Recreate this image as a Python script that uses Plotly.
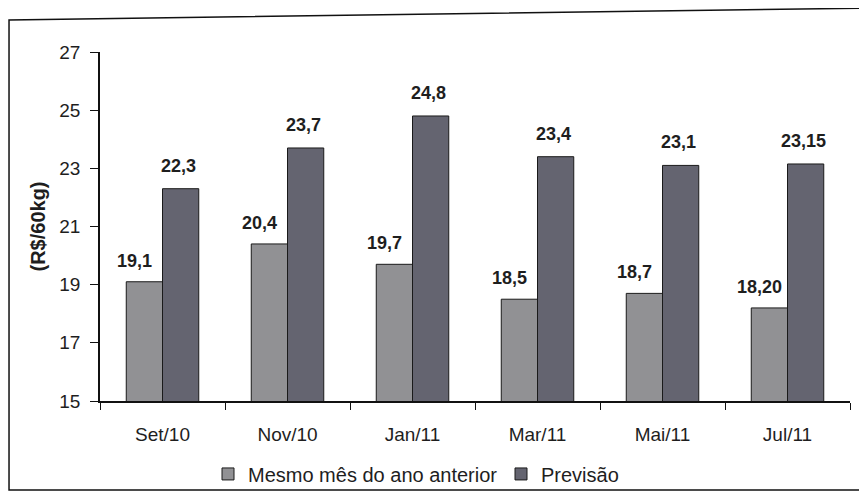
import plotly.graph_objects as go

categories = ["Set/10", "Nov/10", "Jan/11", "Mar/11", "Mai/11", "Jul/11"]
mesmo_mes = [19.1, 20.4, 19.7, 18.5, 18.7, 18.2]
mesmo_mes_labels = ["19,1", "20,4", "19,7", "18,5", "18,7", "18,20"]
previsao = [22.3, 23.7, 24.8, 23.4, 23.1, 23.15]
previsao_labels = ["22,3", "23,7", "24,8", "23,4", "23,1", "23,15"]
y_ticks = [15, 17, 19, 21, 23, 25, 27]

font_family = "Liberation Sans, Arial, sans-serif"
text_color = "#1e1e1e"

fig = go.Figure()
fig.add_trace(go.Bar(
    x=categories, y=mesmo_mes, name="Mesmo mês do ano anterior",
    marker=dict(color="#919194", line=dict(color="#1a1a1a", width=1)),
))
fig.add_trace(go.Bar(
    x=categories, y=previsao, name="Previsão",
    marker=dict(color="#646470", line=dict(color="#1a1a1a", width=1)),
))

annotations = []
for cat, v, lab in zip(categories, mesmo_mes, mesmo_mes_labels):
    annotations.append(dict(x=cat, y=v, text=lab, showarrow=False, xref="x", yref="y",
                            xanchor="center", yanchor="bottom", xshift=-28, yshift=9,
                            font=dict(size=18, color=text_color, weight="bold")))
for cat, v, lab in zip(categories, previsao, previsao_labels):
    annotations.append(dict(x=cat, y=v, text=lab, showarrow=False, xref="x", yref="y",
                            xanchor="center", yanchor="bottom", xshift=16, yshift=11,
                            font=dict(size=18, color=text_color, weight="bold")))

fig.update_layout(
    width=859, height=484,
    margin=dict(l=92, r=17, t=44, b=91, autoexpand=False),
    paper_bgcolor="white", plot_bgcolor="white",
    barmode="group", bargap=0.42, bargroupgap=0,
    font=dict(family=font_family, size=18, color=text_color),
    showlegend=True,
    legend=dict(orientation="h", x=0.144, y=-0.209, xanchor="left", yanchor="middle",
                font=dict(size=20, color=text_color), entrywidth=248, entrywidthmode="pixels",
                itemwidth=30, bgcolor="rgba(0,0,0,0)"),
    xaxis=dict(showline=True, linecolor="#111111", linewidth=1.5, ticks="outside",
               tickson="boundaries", ticklen=7, tickcolor="#111111", showgrid=False,
               ticklabelstandoff=15, tickfont=dict(size=19, color=text_color)),
    yaxis=dict(range=[15, 27], tickvals=y_ticks, showline=True, linecolor="#111111",
               linewidth=1.5, ticks="outside", ticklen=8, tickcolor="#111111",
               showgrid=False, zeroline=False, ticklabelstandoff=6,
               tickfont=dict(size=19, color=text_color),
               title=dict(text="(R$/60kg)", font=dict(size=20, color=text_color, weight="bold"),
                          standoff=8)),
    annotations=annotations,
    shapes=[dict(type="path", xref="paper", yref="paper",
                 path="M -0.1213,-0.255 L -0.1213,1.0917 L 1.03,1.126 L 1.03,-0.255 Z",
                 line=dict(color="#111111", width=1.5),
                 fillcolor="rgba(0,0,0,0)", layer="below")],
)

fig.write_html("out.html")
